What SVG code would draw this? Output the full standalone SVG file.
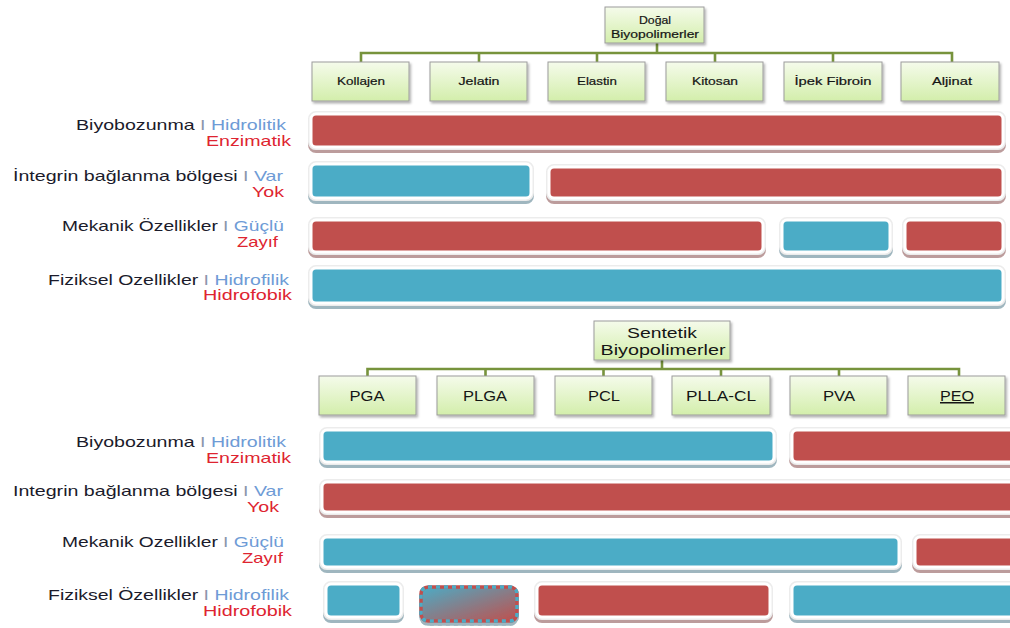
<svg xmlns="http://www.w3.org/2000/svg" width="1010" height="628" viewBox="0 0 1010 628">
<defs>
<linearGradient id="gGreen" x1="0" y1="0" x2="0" y2="1">
<stop offset="0" stop-color="#f5fbeb"/>
<stop offset="1" stop-color="#d3eeab"/>
</linearGradient>
<linearGradient id="gMix" x1="0" y1="0" x2="1" y2="1">
<stop offset="0" stop-color="#4bacc6"/>
<stop offset="1" stop-color="#c0504d"/>
</linearGradient>
<filter id="boxSh" x="-10%" y="-20%" width="130%" height="160%">
<feDropShadow dx="1.5" dy="2" stdDeviation="1" flood-color="#000" flood-opacity="0.3"/>
</filter>
<filter id="shR" x="-5%" y="-30%" width="110%" height="170%">
<feDropShadow dx="0" dy="3" stdDeviation="0.7" flood-color="#a67c7c" flood-opacity="0.75"/>
</filter>
<filter id="shB" x="-5%" y="-30%" width="110%" height="170%">
<feDropShadow dx="0" dy="3" stdDeviation="0.7" flood-color="#7f9ea9" flood-opacity="0.75"/>
</filter>
<style>
.node rect{fill:url(#gGreen);stroke:#9c9c9c;stroke-width:1;filter:url(#boxSh)}
.nt{font-family:"Liberation Sans",Arial,sans-serif;fill:#151515;text-anchor:middle}
.s{font-size:11px;stroke:#151515;stroke-width:0.2}
.l{font-size:15px}
.conn{fill:none;stroke:#77933c;stroke-width:2.6}
.lbl{font-family:"Liberation Sans",Arial,sans-serif;font-size:14.5px;fill:#1b1b2b}
.bl{fill:#6e9bd6}
.ig{fill:#8c96ad}
.rd{fill:#de2430}
.halo{fill:none;stroke:#ececec;stroke-width:6}
.red{fill:#c0504d;stroke:#fff;stroke-width:3}
.blue{fill:#4bacc6;stroke:#fff;stroke-width:3}
.gR{filter:url(#shR)}
.gB{filter:url(#shB)}
</style>
</defs>
<rect width="1010" height="628" fill="#fff"/>

<g id="connectors">
<path class="conn" d="M657,43V53M361,62V53H952V62M479,53V62M597,53V62M715,53V62M833,53V62"/>
<path class="conn" d="M662,360V369M367.5,376V369H959V376M485.5,369V376M603.5,369V376M721,369V376M839,369V376"/>
</g>

<g id="dogal" class="node"><rect x="605" y="7" width="99" height="36"/>
<text class="nt s" x="655" y="24" textLength="32" lengthAdjust="spacingAndGlyphs">Doğal</text>
<text class="nt s" x="655" y="38" textLength="88" lengthAdjust="spacingAndGlyphs">Biyopolimerler</text></g>
<g id="kollajen" class="node"><rect x="312" y="62" width="97" height="39"/><text class="nt s" x="361" y="85" textLength="48" lengthAdjust="spacingAndGlyphs">Kollajen</text></g>
<g id="jelatin" class="node"><rect x="430" y="62" width="97" height="39"/><text class="nt s" x="479" y="85" textLength="41" lengthAdjust="spacingAndGlyphs">Jelatin</text></g>
<g id="elastin" class="node"><rect x="548" y="62" width="97" height="39"/><text class="nt s" x="597" y="85" textLength="40" lengthAdjust="spacingAndGlyphs">Elastin</text></g>
<g id="kitosan" class="node"><rect x="666" y="62" width="97" height="39"/><text class="nt s" x="715" y="85" textLength="46" lengthAdjust="spacingAndGlyphs">Kitosan</text></g>
<g id="ipek" class="node"><rect x="784" y="62" width="98" height="39"/><text class="nt s" x="833" y="85" textLength="77" lengthAdjust="spacingAndGlyphs">İpek Fibroin</text></g>
<g id="aljinat" class="node"><rect x="901" y="62" width="98" height="39"/><text class="nt s" x="952" y="85" textLength="40" lengthAdjust="spacingAndGlyphs">Aljinat</text></g>

<g id="sentetik" class="node"><rect x="594" y="321" width="136" height="39"/>
<text class="nt" font-size="14" x="662" y="338" textLength="70" lengthAdjust="spacingAndGlyphs">Sentetik</text>
<text class="nt" font-size="14" x="663" y="355" textLength="125" lengthAdjust="spacingAndGlyphs">Biyopolimerler</text></g>
<g id="pga" class="node"><rect x="319" y="376" width="97" height="39"/><text class="nt l" x="367" y="401" textLength="35" lengthAdjust="spacingAndGlyphs">PGA</text></g>
<g id="plga" class="node"><rect x="437" y="376" width="97" height="39"/><text class="nt l" x="485" y="401" textLength="44" lengthAdjust="spacingAndGlyphs">PLGA</text></g>
<g id="pcl" class="node"><rect x="555" y="376" width="97" height="39"/><text class="nt l" x="604" y="401" textLength="32" lengthAdjust="spacingAndGlyphs">PCL</text></g>
<g id="pllacl" class="node"><rect x="672" y="376" width="98" height="39"/><text class="nt l" x="721" y="401" textLength="70" lengthAdjust="spacingAndGlyphs">PLLA-CL</text></g>
<g id="pva" class="node"><rect x="790" y="376" width="97" height="39"/><text class="nt l" x="839" y="401" textLength="32" lengthAdjust="spacingAndGlyphs">PVA</text></g>
<g id="peo" class="node"><rect x="908" y="376" width="97" height="39"/><text class="nt l" x="957" y="401" textLength="34" lengthAdjust="spacingAndGlyphs" text-decoration="underline">PEO</text></g>

<g id="labels-top">
<text class="lbl" x="76" y="129.5" textLength="210" lengthAdjust="spacingAndGlyphs">Biyobozunma <tspan class="ig">I</tspan><tspan class="bl"> Hidrolitik</tspan></text>
<text class="lbl rd" x="206" y="146" textLength="85" lengthAdjust="spacingAndGlyphs">Enzimatik</text>
<text class="lbl" x="13" y="181" textLength="270" lengthAdjust="spacingAndGlyphs">İntegrin bağlanma bölgesi <tspan class="ig">I</tspan><tspan class="bl"> Var</tspan></text>
<text class="lbl rd" x="252" y="197" textLength="32" lengthAdjust="spacingAndGlyphs">Yok</text>
<text class="lbl" x="62" y="231" textLength="222" lengthAdjust="spacingAndGlyphs">Mekanik Özellikler <tspan class="ig">I</tspan><tspan class="bl"> Güçlü</tspan></text>
<text class="lbl rd" x="237" y="247" textLength="41" lengthAdjust="spacingAndGlyphs">Zayıf</text>
<text class="lbl" x="48" y="284.5" textLength="241" lengthAdjust="spacingAndGlyphs">Fiziksel Ozellikler <tspan class="ig">I</tspan><tspan class="bl"> Hidrofilik</tspan></text>
<text class="lbl rd" x="203" y="300" textLength="89" lengthAdjust="spacingAndGlyphs">Hidrofobik</text>
</g>

<g id="labels-bottom">
<text class="lbl" x="76" y="447" textLength="210" lengthAdjust="spacingAndGlyphs">Biyobozunma <tspan class="ig">I</tspan><tspan class="bl"> Hidrolitik</tspan></text>
<text class="lbl rd" x="206" y="463" textLength="85" lengthAdjust="spacingAndGlyphs">Enzimatik</text>
<text class="lbl" x="13" y="496" textLength="270" lengthAdjust="spacingAndGlyphs">Integrin bağlanma bölgesi <tspan class="ig">I</tspan><tspan class="bl"> Var</tspan></text>
<text class="lbl rd" x="247" y="512" textLength="32" lengthAdjust="spacingAndGlyphs">Yok</text>
<text class="lbl" x="62" y="547" textLength="222" lengthAdjust="spacingAndGlyphs">Mekanik Ozellikler <tspan class="ig">I</tspan><tspan class="bl"> Güçlü</tspan></text>
<text class="lbl rd" x="242" y="563" textLength="41" lengthAdjust="spacingAndGlyphs">Zayıf</text>
<text class="lbl" x="48" y="600" textLength="241" lengthAdjust="spacingAndGlyphs">Fiziksel Özellikler <tspan class="ig">I</tspan><tspan class="bl"> Hidrofilik</tspan></text>
<text class="lbl rd" x="203" y="616" textLength="89" lengthAdjust="spacingAndGlyphs">Hidrofobik</text>
</g>

<g id="bars-top">
<g class="gR"><rect class="halo" x="311" y="114" width="692" height="33" rx="5"/><rect class="red" x="311" y="114" width="692" height="33" rx="5"/></g>
<g class="gB"><rect class="halo" x="311" y="164" width="220" height="34" rx="5"/><rect class="blue" x="311" y="164" width="220" height="34" rx="5"/></g>
<g class="gR"><rect class="halo" x="549" y="167" width="454" height="31" rx="5"/><rect class="red" x="549" y="167" width="454" height="31" rx="5"/></g>
<g class="gR"><rect class="halo" x="311" y="220" width="452" height="32" rx="5"/><rect class="red" x="311" y="220" width="452" height="32" rx="5"/></g>
<g class="gB"><rect class="halo" x="782" y="220" width="108" height="32" rx="5"/><rect class="blue" x="782" y="220" width="108" height="32" rx="5"/></g>
<g class="gR"><rect class="halo" x="905" y="220" width="98" height="32" rx="5"/><rect class="red" x="905" y="220" width="98" height="32" rx="5"/></g>
<g class="gB"><rect class="halo" x="311" y="268" width="692" height="35" rx="5"/><rect class="blue" x="311" y="268" width="692" height="35" rx="5"/></g>
</g>

<g id="bars-bottom">
<g class="gB"><rect class="halo" x="322" y="430" width="452" height="32" rx="5"/><rect class="blue" x="322" y="430" width="452" height="32" rx="5"/></g>
<g class="gR"><rect class="halo" x="792" y="430" width="240" height="32" rx="5"/><rect class="red" x="792" y="430" width="240" height="32" rx="5"/></g>
<g class="gR"><rect class="halo" x="322" y="482" width="710" height="30" rx="5"/><rect class="red" x="322" y="482" width="710" height="30" rx="5"/></g>
<g class="gB"><rect class="halo" x="322" y="537" width="577" height="30" rx="5"/><rect class="blue" x="322" y="537" width="577" height="30" rx="5"/></g>
<g class="gR"><rect class="halo" x="915" y="537" width="120" height="30" rx="5"/><rect class="red" x="915" y="537" width="120" height="30" rx="5"/></g>
<g class="gB"><rect class="halo" x="326" y="584" width="75" height="33" rx="5"/><rect class="blue" x="326" y="584" width="75" height="33" rx="5"/></g>
<g class="gB"><rect x="421" y="587" width="96" height="34" rx="7" fill="url(#gMix)" stroke="#c0504d" stroke-width="3.5"/><rect x="421" y="587" width="96" height="34" rx="7" fill="none" stroke="#4bacc6" stroke-width="3.5" stroke-dasharray="4 4"/></g>
<g class="gR"><rect class="halo" x="537" y="584" width="233" height="33" rx="5"/><rect class="red" x="537" y="584" width="233" height="33" rx="5"/></g>
<g class="gB"><rect class="halo" x="792" y="584" width="240" height="33" rx="5"/><rect class="blue" x="792" y="584" width="240" height="33" rx="5"/></g>
</g>
</svg>
